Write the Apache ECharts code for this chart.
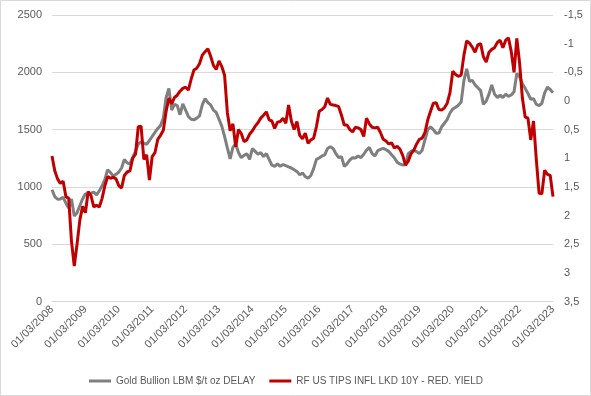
<!DOCTYPE html>
<html>
<head>
<meta charset="utf-8">
<script src="https://cdn.jsdelivr.net/npm/echarts@6/dist/echarts.min.js"></script>
<style>
  html, body { margin: 0; padding: 0; background: #fff; }
  #main { width: 591px; height: 396px; }
</style>
</head>
<body>
<div id="main"></div>
<script>
// monthly points, 01/03/2008 .. 01/03/2023
const startYear = 2008
const startMonth = 3
const goldName = 'Gold Bullion LBM $/t oz DELAY'
const tipsName = 'RF US TIPS INFL LKD 10Y - RED. YIELD'

const gold = [
  975, 915, 892, 895, 908, 858, 815, 895, 745, 775, 835, 895,
  940, 932, 945, 955, 930, 965, 1010, 1065, 1150, 1125, 1095, 1110,
  1130, 1165, 1240, 1210, 1200, 1260, 1310, 1375, 1392, 1382, 1372, 1405,
  1440, 1475, 1510, 1535, 1600, 1780, 1860, 1670, 1720, 1710, 1630, 1725,
  1670, 1615, 1590, 1585, 1600, 1620, 1715, 1770, 1735, 1715, 1670, 1650,
  1590, 1530, 1440, 1340, 1245, 1345, 1375, 1300, 1255, 1275, 1290, 1240,
  1335, 1310, 1285, 1300, 1265, 1290, 1240, 1190, 1180, 1200, 1180, 1195,
  1185, 1175, 1165, 1150, 1135, 1105, 1122, 1090, 1075, 1100, 1160, 1240,
  1252, 1270, 1280, 1335, 1350, 1335, 1290, 1255, 1264, 1180, 1200, 1235,
  1255, 1252, 1270, 1255, 1285, 1320, 1345, 1290, 1270, 1315, 1328, 1336,
  1325, 1310, 1280, 1255, 1215, 1200, 1190, 1195, 1290, 1310, 1320, 1308,
  1290, 1320, 1410, 1500, 1525, 1500, 1468, 1470, 1525, 1555, 1590, 1645,
  1680, 1695, 1712, 1740, 1930, 2030, 1920, 1930, 1890, 1865, 1840, 1720,
  1750, 1810, 1890, 1810, 1780, 1800, 1780, 1810, 1790, 1802, 1831, 1990,
  1962, 1900, 1860, 1815, 1765, 1770, 1720, 1710, 1730, 1820, 1870, 1850,
  1822
]

const tips = [
  0.96, 1.22, 1.36, 1.44, 1.40, 1.67, 1.70, 2.45, 2.88, 2.50, 2.08, 1.84,
  1.95, 1.58, 1.65, 1.85, 1.82, 1.85, 1.70, 1.48, 1.32, 1.35, 1.33, 1.36,
  1.48, 1.52, 1.30, 1.24, 1.22, 1.00, 0.93, 0.45, 0.44, 1.02, 0.94, 1.38,
  0.97, 0.90, 0.67, 0.60, 0.51, 0.18, -0.05, 0.05, -0.06, -0.10, -0.17, -0.22,
  -0.24, -0.19, -0.38, -0.54, -0.57, -0.65, -0.80, -0.86, -0.91, -0.78, -0.62, -0.55,
  -0.70, -0.60, -0.45, 0.20, 0.52, 0.40, 0.80, 0.50, 0.57, 0.71, 0.68, 0.58,
  0.52, 0.44, 0.38, 0.30, 0.25, 0.19, 0.33, 0.35, 0.48, 0.37, 0.36, 0.30,
  0.39, 0.07, 0.35, 0.50, 0.36, 0.60, 0.66, 0.56, 0.74, 0.68, 0.65, 0.45,
  0.18, 0.15, 0.10, -0.05, 0.06, 0.07, 0.08, 0.10, 0.25, 0.42, 0.42, 0.50,
  0.54, 0.46, 0.47, 0.50, 0.62, 0.30, 0.40, 0.46, 0.47, 0.46, 0.55, 0.67,
  0.70, 0.75, 0.73, 0.82, 0.79, 0.84, 0.95, 1.12, 1.05, 0.92, 0.86, 0.75,
  0.67, 0.65, 0.55, 0.33, 0.18, 0.04, 0.03, 0.15, 0.16, 0.12, 0.04, -0.15,
  -0.52, -0.46, -0.43, -0.45, -0.80, -1.05, -1.01, -0.94, -0.85, -0.98, -1.00, -0.77,
  -0.68, -0.85, -0.90, -0.93, -1.02, -1.06, -0.93, -1.06, -1.10, -0.86, -0.50, -1.09,
  -0.66, -0.05, 0.28, 0.30, 0.68, 0.35, 1.02, 1.61, 1.62, 1.21, 1.28, 1.30,
  1.67
]

const dates = gold.map((v, i) => {
    const m = (startMonth - 1 + i) % 12 + 1
    const y = startYear + Math.floor((startMonth - 1 + i) / 12)
    return '01/' + String(m).padStart(2, '0') + '/' + y
})

const font = '"Liberation Sans", sans-serif'
const labelColor = '#595959'

const chart = echarts.init(document.getElementById('main'))
chart.setOption({
    animation: false,
    backgroundColor: '#fff',
    textStyle: { fontFamily: font },
    graphic: [{
        type: 'rect',
        shape: { x: 0.5, y: 0.5, width: 590, height: 395 },
        style: { fill: 'none', stroke: '#d9d9d9', lineWidth: 1 },
        silent: true
    }],
    grid: { left: 52, right: 38, top: 15, bottom: 94.5 },
    legend: {
        left: 84,
        top: 371,
        itemWidth: 22,
        itemHeight: 3,
        itemGap: 14,
        icon: 'rect',
        textStyle: { color: labelColor, fontSize: 10, fontFamily: font },
        data: [goldName, tipsName]
    },
    xAxis: {
        type: 'category',
        data: dates,
        boundaryGap: false,
        axisLine: { lineStyle: { color: '#d9d9d9' } },
        axisTick: { show: false },
        axisLabel: {
            interval: 11,
            rotate: 45,
            margin: 6,
            color: labelColor,
            fontSize: 11,
            fontFamily: font
        }
    },
    yAxis: [{
        type: 'value',
        min: 0,
        max: 2500,
        interval: 500,
        axisLine: { show: false },
        axisTick: { show: false },
        axisLabel: {
            color: labelColor,
            fontSize: 11,
            margin: 10,
            fontFamily: font,
            formatter: v => String(v)
        },
        splitLine: { lineStyle: { color: '#d9d9d9' } }
    }, {
        type: 'value',
        inverse: true,
        min: -1.5,
        max: 3.5,
        interval: 0.5,
        axisLine: { show: false },
        axisTick: { show: false },
        splitLine: { show: false },
        axisLabel: {
            color: labelColor,
            fontSize: 11,
            margin: 11,
            fontFamily: font,
            formatter: v => String(v).replace('.', ',')
        }
    }],
    series: [{
        name: goldName,
        type: 'line',
        data: gold,
        yAxisIndex: 0,
        showSymbol: false,
        lineStyle: { color: '#7f7f7f', width: 3 },
        itemStyle: { color: '#7f7f7f' }
    }, {
        name: tipsName,
        type: 'line',
        data: tips,
        yAxisIndex: 1,
        showSymbol: false,
        lineStyle: { color: '#c00000', width: 3 },
        itemStyle: { color: '#c00000' }
    }]
})
</script>
</body>
</html>
